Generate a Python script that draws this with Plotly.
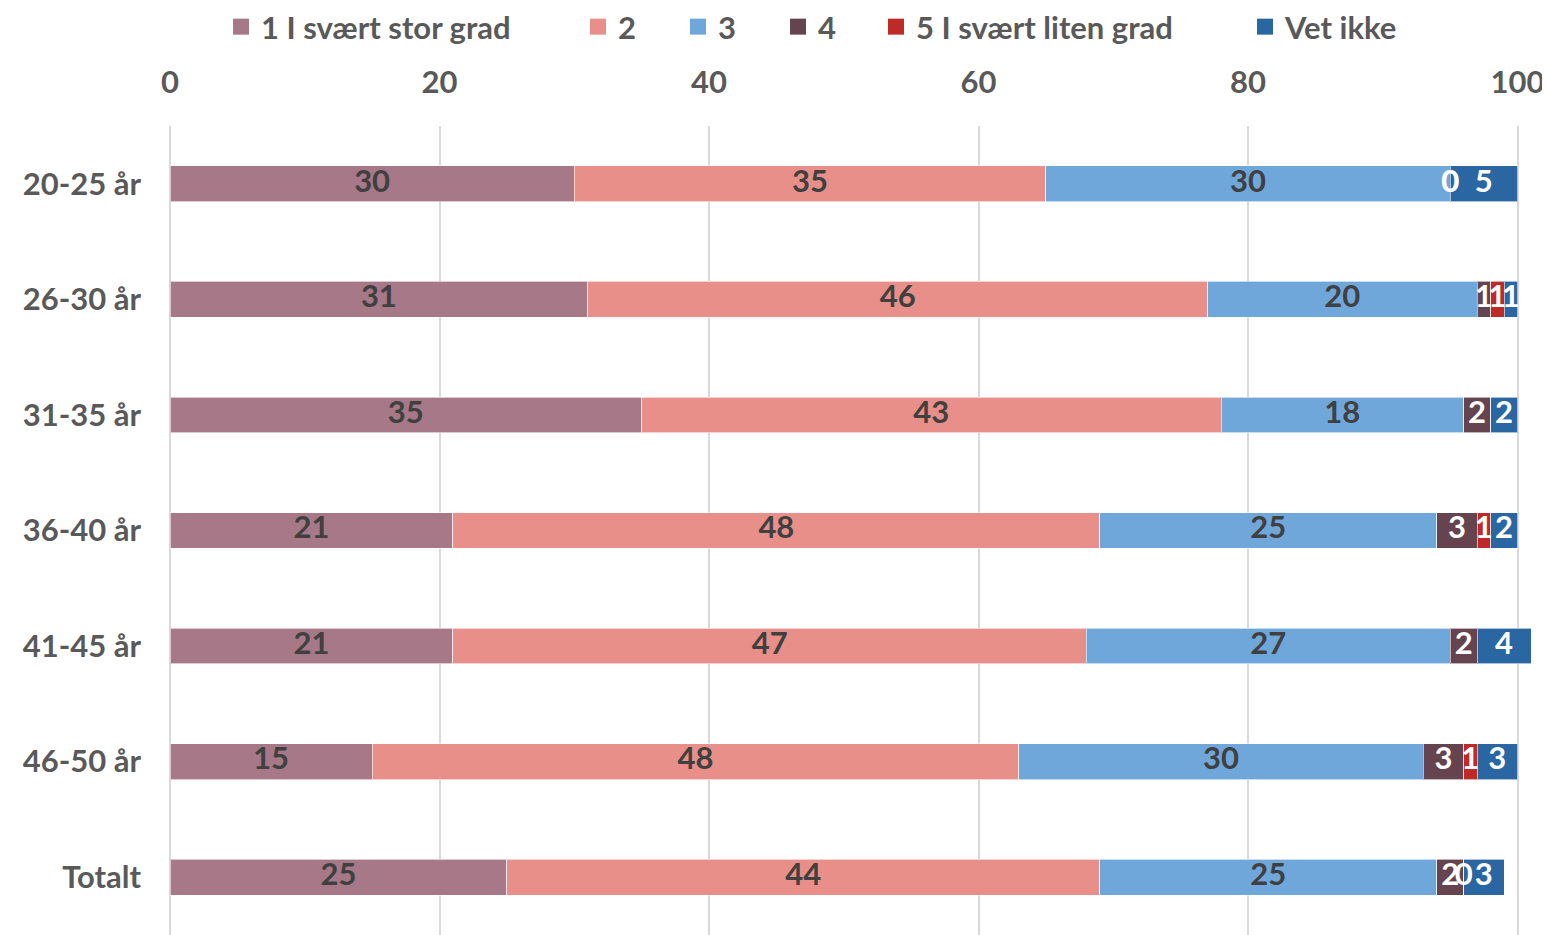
import plotly.graph_objects as go

categories = ["20-25 år", "26-30 år", "31-35 år", "36-40 år", "41-45 år", "46-50 år", "Totalt"]
series_names = ["1 I svært stor grad", "2", "3", "4", "5 I svært liten grad", "Vet ikke"]
s1 = [30, 31, 35, 21, 21, 15, 25]
s2 = [35, 46, 43, 48, 47, 48, 44]
s3 = [30, 20, 18, 25, 27, 30, 25]
s4 = [0, 1, 2, 3, 2, 3, 2]
s5 = [0, 1, None, 1, None, 1, 0]
s6 = [5, 1, 2, 2, 4, 3, 3]
tick_vals = [0, 20, 40, 60, 80, 100]

series = [s1, s2, s3, s4, s5, s6]
colors = ["#A67888", "#E88F8A", "#70A7DA", "#65434F", "#BE2A27", "#2A67A2"]
label_colors = ["#404040", "#404040", "#404040", "#FFFFFF", "#FFFFFF", "#FFFFFF"]

FONT = "Lato"
FS = 31
W, H = 1542, 927          # page body has an 8px margin
legend_sym_left = [233, 590, 690, 790, 888, 1257]   # window px, for legend placement
LEG_OFF = 12             # guess: legend left edge -> symbol left edge

fig = go.Figure()

legend_ids = ["legend"] + [f"legend{i}" for i in range(2, 7)]
for name, vals, col, lid in zip(series_names, series, colors, legend_ids):
    fig.add_trace(go.Bar(
        y=categories, x=[v if v is not None else 0 for v in vals], name=name,
        orientation="h", marker=dict(color=col, line=dict(color="rgba(255,255,255,0.6)", width=1)),
        hoverinfo="x+name", showlegend=False, legendgroup=name,
    ))
    # legend entry with a larger square symbol
    fig.add_trace(go.Scatter(
        x=[None], y=[None], mode="markers", name=name, legend=lid, legendgroup=name,
        marker=dict(symbol="square", size=16, color=col), showlegend=True,
    ))

# data labels at segment centres
cum = [0] * len(categories)
for vals, lc in zip(series, label_colors):
    xs, ys, ts = [], [], []
    for i, v in enumerate(vals):
        if v is None:
            continue
        xs.append(cum[i] + v / 2)
        ys.append(categories[i])
        ts.append(str(v))
        cum[i] += v
    fig.add_trace(go.Scatter(
        x=xs, y=ys, text=ts, mode="text", showlegend=False, hoverinfo="skip",
        textfont=dict(family=FONT, size=FS, color=lc, weight="bold"),
        textposition="middle center", cliponaxis=False,
    ))

legend_font = dict(family=FONT, size=FS, color="#595959", weight="bold")
legends = {}
for lid, left in zip(legend_ids, legend_sym_left):
    legends[lid] = dict(
        orientation="h", xref="container", yref="container",
        x=(left - 8 - LEG_OFF) / W, xanchor="left",
        y=1 - (27 - 8) / H, yanchor="middle",
        font=legend_font, itemsizing="trace", bgcolor="rgba(0,0,0,0)",
    )

fig.update_layout(
    barmode="stack",
    bargap=0.69,
    width=W, height=H,
    margin=dict(l=162, r=19, t=118, b=0, autoexpand=False),
    plot_bgcolor="white", paper_bgcolor="white",
    font=dict(family=FONT, size=FS, color="#595959", weight="bold"),
    showlegend=True,
    **legends,
)
fig.update_xaxes(
    side="top", range=[0, 101], tickvals=tick_vals, ticktext=[str(t) for t in tick_vals],
    showgrid=True, gridcolor="#D9D9D9", gridwidth=2,
    zeroline=True, zerolinecolor="#D9D9D9", zerolinewidth=2,
    showline=False, ticks="", ticklabelstandoff=26, automargin=False,
    tickfont=dict(family=FONT, size=FS, color="#595959", weight="bold"),
    fixedrange=True,
)
fig.update_yaxes(
    categoryorder="array", categoryarray=categories, range=[6.5, -0.5],
    showgrid=False, zeroline=False, showline=False, ticks="", ticklabelstandoff=28,
    automargin=False,
    tickfont=dict(family=FONT, size=FS, color="#595959", weight="bold"),
    fixedrange=True,
)

fig.write_html("out.html")
